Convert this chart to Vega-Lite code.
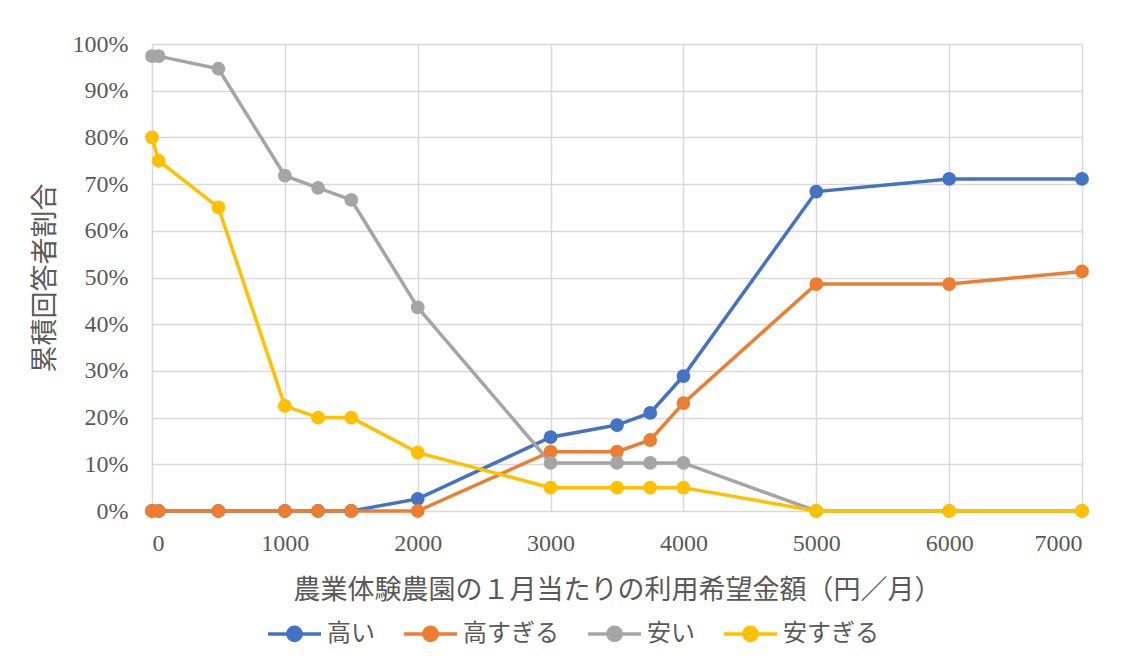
{
  "$schema": "https://vega.github.io/schema/vega-lite/v6.json",
  "autosize": {"type": "none"},
  "width": 930,
  "height": 467,
  "padding": {"left": 152, "top": 44, "right": 43, "bottom": 158},
  "background": "white",
  "config": {
    "font": "Liberation Serif, Noto Sans CJK JP",
    "view": {"stroke": null}
  },
  "data": {
    "values": [
      {"x": 0, "s": "高い", "v": 0}, {"x": 50, "s": "高い", "v": 0}, {"x": 500, "s": "高い", "v": 0}, {"x": 1000, "s": "高い", "v": 0}, {"x": 1250, "s": "高い", "v": 0}, {"x": 1500, "s": "高い", "v": 0}, {"x": 2000, "s": "高い", "v": 0.026}, {"x": 3000, "s": "高い", "v": 0.158}, {"x": 3500, "s": "高い", "v": 0.184}, {"x": 3750, "s": "高い", "v": 0.21}, {"x": 4000, "s": "高い", "v": 0.289}, {"x": 5000, "s": "高い", "v": 0.684}, {"x": 6000, "s": "高い", "v": 0.711}, {"x": 7000, "s": "高い", "v": 0.711},
      {"x": 0, "s": "高すぎる", "v": 0}, {"x": 50, "s": "高すぎる", "v": 0}, {"x": 500, "s": "高すぎる", "v": 0}, {"x": 1000, "s": "高すぎる", "v": 0}, {"x": 1250, "s": "高すぎる", "v": 0}, {"x": 1500, "s": "高すぎる", "v": 0}, {"x": 2000, "s": "高すぎる", "v": 0}, {"x": 3000, "s": "高すぎる", "v": 0.127}, {"x": 3500, "s": "高すぎる", "v": 0.127}, {"x": 3750, "s": "高すぎる", "v": 0.152}, {"x": 4000, "s": "高すぎる", "v": 0.231}, {"x": 5000, "s": "高すぎる", "v": 0.486}, {"x": 6000, "s": "高すぎる", "v": 0.486}, {"x": 7000, "s": "高すぎる", "v": 0.513},
      {"x": 0, "s": "安い", "v": 0.974}, {"x": 50, "s": "安い", "v": 0.974}, {"x": 500, "s": "安い", "v": 0.947}, {"x": 1000, "s": "安い", "v": 0.718}, {"x": 1250, "s": "安い", "v": 0.692}, {"x": 1500, "s": "安い", "v": 0.666}, {"x": 2000, "s": "安い", "v": 0.436}, {"x": 3000, "s": "安い", "v": 0.103}, {"x": 3500, "s": "安い", "v": 0.103}, {"x": 3750, "s": "安い", "v": 0.103}, {"x": 4000, "s": "安い", "v": 0.103}, {"x": 5000, "s": "安い", "v": 0}, {"x": 6000, "s": "安い", "v": 0}, {"x": 7000, "s": "安い", "v": 0},
      {"x": 0, "s": "安すぎる", "v": 0.8}, {"x": 50, "s": "安すぎる", "v": 0.75}, {"x": 500, "s": "安すぎる", "v": 0.65}, {"x": 1000, "s": "安すぎる", "v": 0.225}, {"x": 1250, "s": "安すぎる", "v": 0.2}, {"x": 1500, "s": "安すぎる", "v": 0.2}, {"x": 2000, "s": "安すぎる", "v": 0.125}, {"x": 3000, "s": "安すぎる", "v": 0.05}, {"x": 3500, "s": "安すぎる", "v": 0.05}, {"x": 3750, "s": "安すぎる", "v": 0.05}, {"x": 4000, "s": "安すぎる", "v": 0.05}, {"x": 5000, "s": "安すぎる", "v": 0}, {"x": 6000, "s": "安すぎる", "v": 0}, {"x": 7000, "s": "安すぎる", "v": 0}
    ]
  },
  "mark": {"type": "line", "strokeWidth": 3.5, "point": {"size": 190, "filled": true, "opacity": 1}},
  "encoding": {
    "x": {
      "field": "x", "type": "quantitative",
      "scale": {"domain": [0, 7000], "nice": false, "zero": true},
      "axis": {
        "values": [0, 1000, 2000, 3000, 4000, 5000, 6000, 7000],
        "format": "d",
        "title": "農業体験農園の１月当たりの利用希望金額（円／月）",
        "titleFontSize": 27, "titleFontWeight": "normal", "titleColor": "#595959", "titlePadding": 22,
        "labelFontSize": 24, "labelColor": "#595959", "labelPadding": 20,
        "ticks": false, "domain": false,
        "grid": true, "gridColor": "#D9D9D9", "gridWidth": 1.5
      }
    },
    "y": {
      "field": "v", "type": "quantitative",
      "scale": {"domain": [0, 1], "nice": false},
      "axis": {
        "values": [0, 0.1, 0.2, 0.3, 0.4, 0.5, 0.6, 0.7, 0.8, 0.9, 1],
        "format": ".0%",
        "title": "累積回答者割合",
        "titleFontSize": 27, "titleFontWeight": "normal", "titleColor": "#595959", "titlePadding": 13,
        "labelFontSize": 24, "labelColor": "#595959", "labelPadding": 24,
        "ticks": false, "domain": false,
        "grid": true, "gridColor": "#D9D9D9", "gridWidth": 1.5
      }
    },
    "color": {
      "field": "s", "type": "nominal",
      "scale": {"domain": ["高い", "高すぎる", "安い", "安すぎる"], "range": ["#4472C4", "#ED7D31", "#A5A5A5", "#FFC000"]},
      "legend": {
        "title": null, "orient": "none", "direction": "horizontal",
        "legendX": 114, "legendY": 561,
        "labelFontSize": 24, "labelColor": "#595959",
        "symbolType": "M-1,0H1M-0.25,0a0.25,0.25 0 1,0 0.5,0a0.25,0.25 0 1,0 -0.5,0",
        "symbolSize": 2809, "symbolStrokeWidth": 3.5, "columnPadding": 22, "labelOffset": 4
      }
    }
  }
}
